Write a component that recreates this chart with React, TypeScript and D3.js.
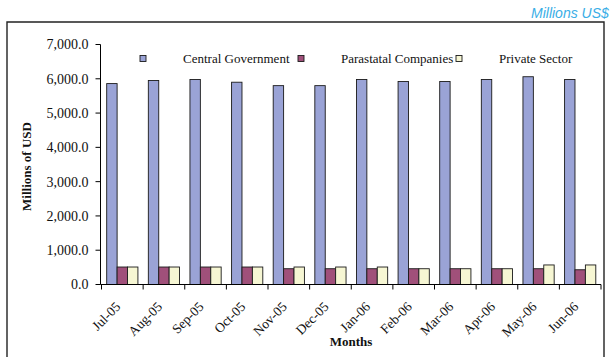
import React from "react";
import * as d3 from "d3";

// Monthly external debt stock by borrower type, millions of USD
const months = ["Jul-05", "Aug-05", "Sep-05", "Oct-05", "Nov-05", "Dec-05", "Jan-06", "Feb-06", "Mar-06", "Apr-06", "May-06", "Jun-06"];
const centralGovernment = [5860, 5950, 5980, 5900, 5800, 5800, 5980, 5920, 5920, 5980, 6060, 5980];
const parastatalCompanies = [510, 510, 510, 510, 460, 460, 460, 460, 460, 460, 460, 430];
const privateSector = [510, 510, 510, 510, 510, 510, 510, 460, 460, 460, 570, 570];
const seriesNames = ["Central Government", "Parastatal Companies", "Private Sector"];
const seriesColors = ["#9aa3d6", "#a0507a", "#f6f6d3"];
const yTicks = [0, 1000, 2000, 3000, 4000, 5000, 6000, 7000];

const W = 610;
const H = 357;
const plot = { left: 101.5, right: 601, top: 44.5, bottom: 284.5 };
const serif = "'Liberation Serif', 'Times New Roman', serif";

export default function App() {
  const series = [centralGovernment, parastatalCompanies, privateSector];

  const x = d3.scaleBand<string>().domain(months).range([plot.left, plot.right]).paddingInner(0.25).paddingOuter(0.125);
  const xCat = d3.scaleBand<string>().domain(months).range([plot.left, plot.right]);
  const xInner = d3.scaleBand<number>().domain([0, 1, 2]).range([0, x.bandwidth()]);
  const y = d3.scaleLinear().domain([0, 7000]).range([plot.bottom, plot.top]);
  const fmt = d3.format(",.1f");

  const legendX = (i: number) => 140 + i * 158;

  return (
    <svg width={W} height={H} style={{ position: "absolute", left: 0, top: 0, background: "#fff" }}>
      {/* caption above the frame */}
      <text x={531} y={17.5} fontFamily="'Liberation Sans', Arial, sans-serif" fontStyle="italic" fontSize={14} fill="#3aaee6">
        Millions US$
      </text>

      {/* chart frame */}
      <path d={`M7,${H + 2}V22H604V${H + 2}`} fill="none" stroke="#222" strokeWidth={1.4} />

      {/* bars */}
      {months.map((m, i) => (
        <g key={m}>
          {series.map((s, k) => (
            <rect
              key={k}
              x={(x(m) ?? 0) + (xInner(k) ?? 0)}
              y={y(s[i])}
              width={xInner.bandwidth()}
              height={y(0) - y(s[i])}
              fill={seriesColors[k]}
              stroke="#1a1a1a"
              strokeWidth={0.9}
            />
          ))}
        </g>
      ))}

      {/* y axis */}
      <line x1={plot.left - 1} x2={plot.left - 1} y1={plot.top} y2={plot.bottom} stroke="#000" strokeWidth={1} />
      {yTicks.map((t) => (
        <g key={t}>
          <line x1={plot.left - 6} x2={plot.left - 1} y1={y(t)} y2={y(t)} stroke="#000" strokeWidth={1} />
          <text x={plot.left - 13} y={y(t)} dy="0.35em" textAnchor="end" fontFamily={serif} fontSize={14} fill="#111">
            {fmt(t)}
          </text>
        </g>
      ))}
      <text
        transform={`translate(31,${(plot.top + plot.bottom) / 2 + 2}) rotate(-90)`}
        textAnchor="middle"
        fontFamily={serif}
        fontWeight="bold"
        fontSize={13}
        fill="#111"
      >
        Millions of USD
      </text>

      {/* x axis */}
      <line x1={plot.left - 1} x2={plot.right} y1={plot.bottom} y2={plot.bottom} stroke="#000" strokeWidth={1} />
      {[...months.map((m) => xCat(m) ?? 0), plot.right].map((v, i) => (
        <line key={i} x1={v} x2={v} y1={plot.bottom} y2={plot.bottom + 5} stroke="#000" strokeWidth={1} />
      ))}
      {months.map((m) => {
        const cx = (xCat(m) ?? 0) + xCat.bandwidth() / 2;
        return (
          <text
            key={m}
            transform={`translate(${cx - 1},${plot.bottom + 23}) rotate(-45)`}
            textAnchor="end"
            fontFamily={serif}
            fontSize={13.5}
            fill="#111"
          >
            {m}
          </text>
        );
      })}
      <text x={351} y={346} textAnchor="middle" fontFamily={serif} fontWeight="bold" fontSize={13} fill="#111">
        Months
      </text>

      {/* legend */}
      {seriesNames.map((n, i) => (
        <g key={n}>
          <rect x={legendX(i)} y={55.5} width={6} height={6} fill={seriesColors[i]} stroke="#1a1a1a" strokeWidth={0.9} />
          <text x={legendX(i) + 43} y={62.5} fontFamily={serif} fontSize={13} fill="#111">
            {n}
          </text>
        </g>
      ))}
    </svg>
  );
}
